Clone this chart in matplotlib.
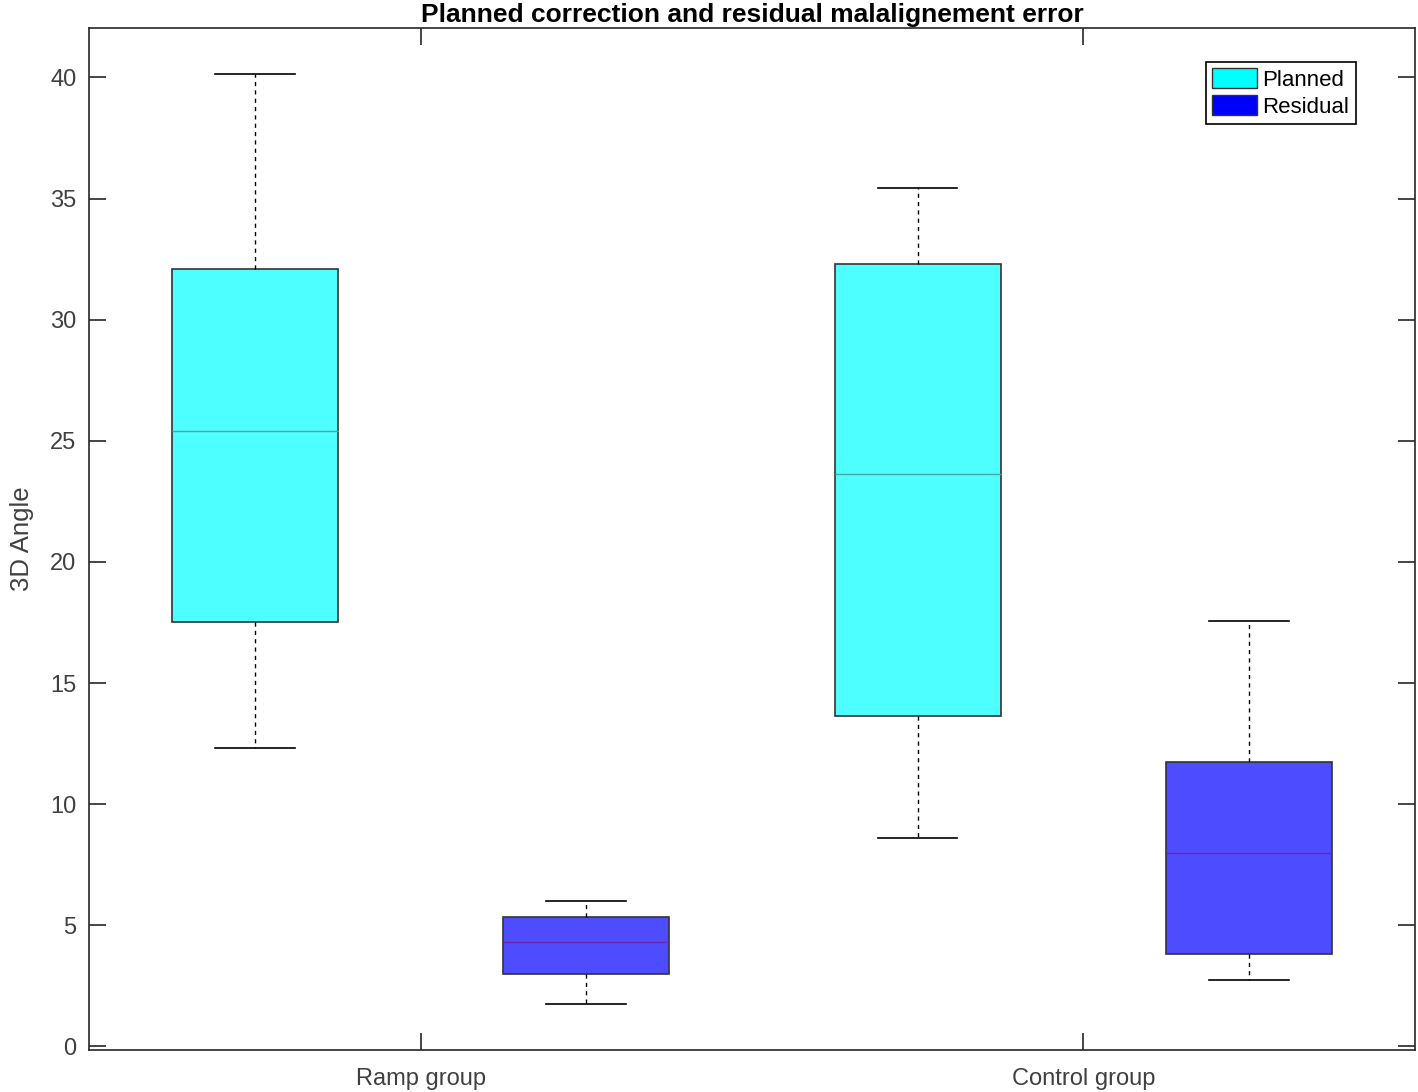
import matplotlib
matplotlib.use('Agg')
import matplotlib.pyplot as plt
from matplotlib.patches import Patch

plt.rcParams['font.family'] = ['Liberation Sans', 'DejaVu Sans']

# box statistics: low whisker, Q1, median, Q3, high whisker
groups = ['Ramp group', 'Control group']
series = ['Planned', 'Residual']
planned_stats = [[12.3, 17.5, 25.4, 32.1, 40.15], [8.6, 13.65, 23.65, 32.3, 35.45]]
residual_stats = [[1.75, 3.0, 4.3, 5.35, 6.0], [2.75, 3.8, 8.0, 11.75, 17.55]]

face_cols = {'Planned': '#4dffff', 'Residual': '#4d4dff'}
median_cols = {'Planned': '#4da6a6', 'Residual': '#7a1fa8'}
legend_cols = {'Planned': '#00ffff', 'Residual': '#0000ff'}

fig = plt.figure(figsize=(14.18, 10.92), dpi=100)
ax = fig.add_axes([0.0628, 0.0385, 0.935, 0.936])

pos = 1
for g in range(len(groups)):
	for name, st in (('Planned', planned_stats[g]), ('Residual', residual_stats[g])):
		lo, q1, med, q3, hi = st
		d = {'whislo': lo, 'q1': q1, 'med': med, 'q3': q3, 'whishi': hi, 'fliers': []}
		ax.bxp([d], positions=[pos], widths=0.5, patch_artist=True, showfliers=False,
			boxprops=dict(facecolor=face_cols[name], edgecolor='#333333', linewidth=1.2),
			medianprops=dict(color=median_cols[name], linewidth=1.0),
			whiskerprops=dict(color='black', linestyle=(0, (3, 3)), linewidth=1.0),
			capprops=dict(color='black', linewidth=1.2), capwidths=0.24)
		pos += 1

ax.set_xlim(0.5, 4.5)
ax.set_ylim(-0.15, 42.05)
ax.set_xticks([1.5, 3.5])
ax.set_xticklabels(groups)
ax.set_yticks(range(0, 41, 5))
ax.tick_params(direction='in', top=True, right=True, length=12, width=1.2,
	labelsize=17, colors='#262626', labelcolor='#404040', pad=9)
ax.tick_params(axis='x', pad=13)
for s in ax.spines.values():
	s.set_color('#262626')
	s.set_linewidth(1.2)
ax.set_ylabel('3D Angle', fontsize=18.5, color='#404040', labelpad=12)
ax.set_title('Planned correction and residual malalignement error', fontsize=19,
	fontweight='bold', pad=4)

handles = [Patch(facecolor=legend_cols[n], edgecolor='#333333', label=n) for n in series]
leg = ax.legend(handles=handles, loc='upper right', bbox_to_anchor=(0.9555, 0.967),
	fontsize=16, fancybox=False, edgecolor='black', framealpha=1,
	handlelength=2.0, handleheight=1.0, borderpad=0.3, labelspacing=0.2, handletextpad=0.25,
	borderaxespad=0)
leg.get_frame().set_linewidth(1.2)

fig.savefig('out.png', dpi=100)
